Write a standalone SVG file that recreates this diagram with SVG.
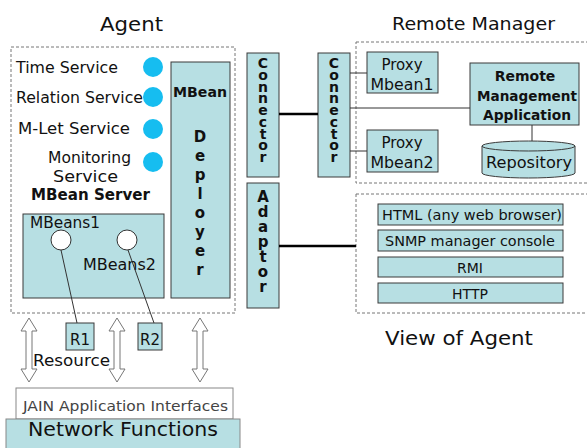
<svg xmlns="http://www.w3.org/2000/svg" width="587" height="448" viewBox="0 0 587 448">
<style>
text{font-family:"DejaVu Sans","Liberation Sans",Arial,sans-serif;fill:#111}
.box{fill:#b7dfe3;stroke:#3a3a3a;stroke-width:1}
.dash{fill:none;stroke:#777;stroke-width:1;stroke-dasharray:3,2}
.svc{fill:#16bdf0}
.wc{fill:#fff;stroke:#333;stroke-width:1}
.ln{stroke:#333;stroke-width:1;fill:none}
.thick{stroke:#000;stroke-width:2.5;fill:none}
.arr{fill:#fff;stroke:#777;stroke-width:1}
.b{font-weight:bold}
.m{text-anchor:middle}
.vt{font-weight:bold;writing-mode:vertical-rl;text-orientation:upright}
.vd{font-weight:bold;text-anchor:middle;font-size:15px}
</style>
<rect width="587" height="448" fill="#fff"/>

<g id="titles">
<text x="100" y="31" font-size="20" textLength="63" lengthAdjust="spacingAndGlyphs">Agent</text>
<text x="392" y="30" font-size="18" textLength="163" lengthAdjust="spacingAndGlyphs">Remote Manager</text>
<text x="385" y="345" font-size="19" textLength="148" lengthAdjust="spacingAndGlyphs">View of Agent</text>
</g>

<g id="agent">
<rect class="dash" x="11" y="47" width="224" height="266"/>
<text x="16" y="73" font-size="15" textLength="102" lengthAdjust="spacingAndGlyphs">Time Service</text>
<text x="16" y="103" font-size="15" textLength="127" lengthAdjust="spacingAndGlyphs">Relation Service</text>
<text x="18" y="134" font-size="15" textLength="112" lengthAdjust="spacingAndGlyphs">M-Let Service</text>
<text x="48" y="163" font-size="15" textLength="83" lengthAdjust="spacingAndGlyphs">Monitoring</text>
<text x="53" y="182" font-size="15" textLength="65" lengthAdjust="spacingAndGlyphs">Service</text>
<circle class="svc" cx="153" cy="67" r="10"/>
<circle class="svc" cx="153" cy="97" r="10"/>
<circle class="svc" cx="153" cy="129" r="10"/>
<circle class="svc" cx="153" cy="162" r="10"/>
<text x="31" y="200" font-size="15" class="b" textLength="119" lengthAdjust="spacingAndGlyphs">MBean Server</text>
</g>

<g id="mbeans">
<rect class="box" x="23" y="214" width="141" height="84"/>
<text x="30" y="228" font-size="15" textLength="70" lengthAdjust="spacingAndGlyphs">MBeans1</text>
<text x="83" y="270" font-size="15" textLength="73" lengthAdjust="spacingAndGlyphs">MBeans2</text>
<circle class="wc" cx="61" cy="240" r="10"/>
<circle class="wc" cx="127" cy="240" r="10"/>
</g>

<g id="deployer">
<rect class="box" x="171" y="62" width="59" height="236"/>
<text x="200" y="97" font-size="14" class="b m" textLength="54" lengthAdjust="spacingAndGlyphs">MBean</text>
<text class="vd" x="200" y="142">D</text>
<text class="vd" x="200" y="161">e</text>
<text class="vd" x="200" y="180">p</text>
<text class="vd" x="200" y="199">l</text>
<text class="vd" x="200" y="218">o</text>
<text class="vd" x="200" y="237">y</text>
<text class="vd" x="200" y="256">e</text>
<text class="vd" x="200" y="275">r</text>
</g>

<g id="r1">
<rect class="box" x="66" y="323" width="28" height="27"/>
<text x="80" y="345" font-size="15" class="m">R1</text>
</g>
<g id="r2">
<rect class="box" x="138" y="323" width="24" height="27"/>
<text x="150" y="345" font-size="15" class="m">R2</text>
</g>
<text x="33" y="366" font-size="15" textLength="77" lengthAdjust="spacingAndGlyphs">Resource</text>

<g id="jain">
<rect x="16" y="388" width="217" height="31" fill="#fff" stroke="#888"/>
<text x="23" y="411" font-size="14" style="fill:#444" textLength="205" lengthAdjust="spacingAndGlyphs">JAIN Application Interfaces</text>
</g>
<g id="network">
<rect x="6" y="419" width="234" height="30" fill="#b7dfe3" stroke="#888"/>
<text x="28" y="436" font-size="20" textLength="190" lengthAdjust="spacingAndGlyphs">Network Functions</text>
</g>

<g id="connector1">
<rect class="box" x="247" y="53" width="32" height="124"/>
<text class="vt" x="263" y="55" font-size="14" textLength="110" lengthAdjust="spacing">Connector</text>
</g>
<g id="adaptor">
<rect class="box" x="247" y="183" width="32" height="125"/>
<text class="vt" x="263" y="188" font-size="15" textLength="108" lengthAdjust="spacing">Adaptor</text>
</g>
<g id="connector2">
<rect class="box" x="318" y="53" width="32" height="124"/>
<text class="vt" x="334" y="55" font-size="14" textLength="110" lengthAdjust="spacing">Connector</text>
</g>

<g id="remote">
<rect class="dash" x="356" y="42" width="240" height="141"/>
</g>
<g id="proxy1">
<rect class="box" x="367" y="52" width="71" height="41"/>
<text x="402" y="70" font-size="15" class="m">Proxy</text>
<text x="402" y="90" font-size="15" class="m" textLength="63" lengthAdjust="spacingAndGlyphs">Mbean1</text>
</g>
<g id="proxy2">
<rect class="box" x="367" y="130" width="71" height="42"/>
<text x="402" y="148" font-size="15" class="m">Proxy</text>
<text x="402" y="168" font-size="15" class="m" textLength="63" lengthAdjust="spacingAndGlyphs">Mbean2</text>
</g>
<g id="app">
<rect class="box" x="470" y="63" width="109" height="62"/>
<text x="525" y="81" font-size="14" class="b m">Remote</text>
<text x="527" y="101" font-size="14" class="b m" textLength="100" lengthAdjust="spacingAndGlyphs">Management</text>
<text x="527" y="120" font-size="14" class="b m" textLength="88" lengthAdjust="spacingAndGlyphs">Application</text>
</g>
<g id="repository">
<path class="box" d="M482,146 L482,173 A46.5,5 0 0 0 575,173 L575,146"/>
<ellipse class="box" cx="528.5" cy="146" rx="46.5" ry="5"/>
<text x="529" y="168" font-size="15" class="m" textLength="86" lengthAdjust="spacingAndGlyphs">Repository</text>
</g>

<g id="view">
<rect class="dash" x="356" y="194" width="240" height="119"/>
<rect class="box" x="378" y="204" width="185" height="21"/>
<text x="472" y="220" font-size="14" class="m" textLength="180" lengthAdjust="spacingAndGlyphs">HTML (any web browser)</text>
<rect class="box" x="378" y="230" width="185" height="21"/>
<text x="470" y="246" font-size="14" class="m" textLength="170" lengthAdjust="spacingAndGlyphs">SNMP manager console</text>
<rect class="box" x="378" y="257" width="185" height="20"/>
<text x="470" y="273" font-size="14" class="m">RMI</text>
<rect class="box" x="378" y="283" width="185" height="20"/>
<text x="470" y="299" font-size="14" class="m">HTTP</text>
</g>

<g id="connectors">
<line class="thick" x1="279" y1="114" x2="318" y2="114"/>
<line class="thick" x1="279" y1="246" x2="356" y2="246"/>
<line class="ln" x1="350" y1="73" x2="367" y2="73"/>
<line class="ln" x1="350" y1="108" x2="470" y2="108"/>
<line class="ln" x1="350" y1="151" x2="367" y2="151"/>
<line class="ln" x1="532" y1="125" x2="532" y2="141"/>
<line class="ln" x1="61" y1="250" x2="77" y2="323"/>
<line class="ln" x1="128" y1="250" x2="154" y2="323"/>
<polygon class="arr" points="29,318 37,331 32,331 32,369 37,369 29,382 21,369 26,369 26,331 21,331"/>
<polygon class="arr" points="117,318 125,331 120,331 120,369 125,369 117,382 109,369 114,369 114,331 109,331"/>
<polygon class="arr" points="200,318 208,331 203,331 203,369 208,369 200,382 192,369 197,369 197,331 192,331"/>
</g>
</svg>
